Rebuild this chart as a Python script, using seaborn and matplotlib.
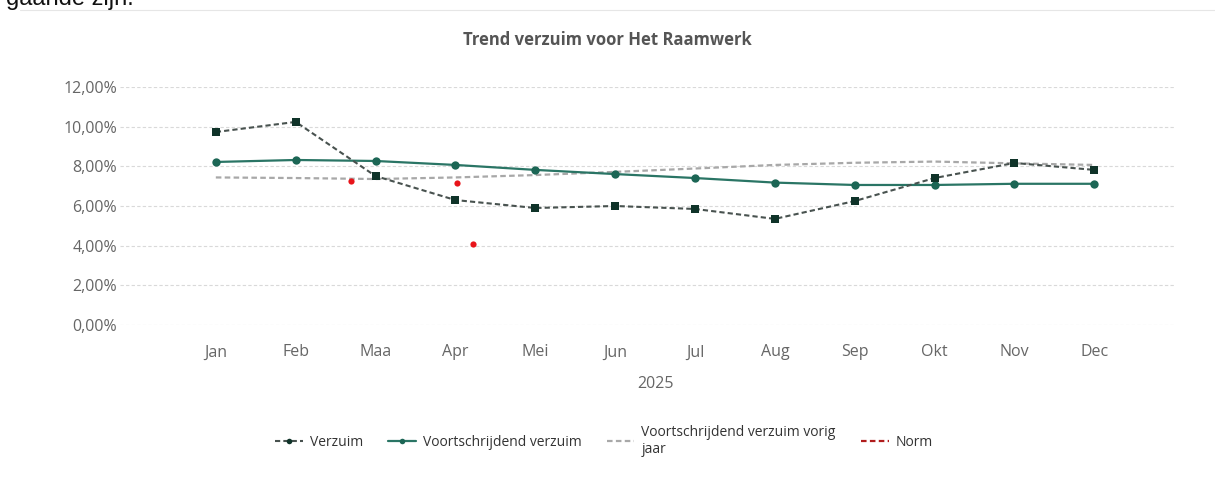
import numpy as np
import pandas as pd
import seaborn as sns
import matplotlib.pyplot as plt
from matplotlib.lines import Line2D
from matplotlib.ticker import FuncFormatter

maanden = ['Jan', 'Feb', 'Maa', 'Apr', 'Mei', 'Jun', 'Jul', 'Aug', 'Sep', 'Okt', 'Nov', 'Dec']
verzuim = [9.73, 10.24, 7.51, 6.30, 5.90, 6.00, 5.85, 5.35, 6.25, 7.41, 8.17, 7.82]
voortschrijdend = [8.22, 8.32, 8.27, 8.07, 7.82, 7.61, 7.41, 7.18, 7.06, 7.06, 7.12, 7.12]
vorig_jaar = [7.44, 7.41, 7.36, 7.44, 7.56, 7.72, 7.89, 8.07, 8.18, 8.24, 8.15, 8.07]
# losse norm-punten (positie als maand-index)
norm_x = [1.69, 3.02, 3.22]
norm_y = [7.26, 7.17, 4.10]

sns.set_style('white')
plt.rcParams['font.family'] = ['Open Sans', 'DejaVu Sans']

df = pd.DataFrame({'x': np.arange(len(maanden)), 'verzuim': verzuim,
                   'voortschrijdend': voortschrijdend, 'vorig': vorig_jaar})

fig = plt.figure(figsize=(12.15, 4.84), dpi=100)
ax = fig.add_axes([120 / 1215, 1 - 325 / 484, 1055 / 1215, 238 / 484])

sns.lineplot(data=df, x='x', y='vorig', ax=ax, color='#a8a8a8', lw=1.6,
             linestyle=(0, (2.5, 1.5)), zorder=2)
sns.lineplot(data=df, x='x', y='voortschrijdend', ax=ax, color='#2a7565', lw=1.6,
             marker='o', markersize=6, markeredgewidth=0, markerfacecolor='#1c6655', zorder=3)
sns.lineplot(data=df, x='x', y='verzuim', ax=ax, color='#48524f', lw=1.5,
             linestyle=(0, (2.5, 1.5)), marker='s', markersize=5.5, markeredgewidth=0,
             markerfacecolor='#0f3329', zorder=4)
sns.scatterplot(x=norm_x, y=norm_y, ax=ax, color='#e8141a', s=20, linewidth=0, zorder=5)

ax.set_ylim(0, 12)
ax.set_xlim(-1.2, 12.01)
ax.set_yticks(np.arange(0, 13, 2))
ax.yaxis.set_major_formatter(FuncFormatter(lambda v, p: f'{v:.2f}%'.replace('.', ',')))
ax.set_xticks(np.arange(len(maanden)))
ax.set_xticklabels(maanden)
ax.tick_params(axis='both', length=0, labelsize=11.5, labelcolor='#666666')
ax.tick_params(axis='x', pad=14)
ax.tick_params(axis='y', pad=2)
ax.grid(axis='y', color='#d9d9d9', linestyle=(0, (3, 2)), lw=0.8)
ax.grid(axis='x', visible=False)
for s in ax.spines.values():
    s.set_visible(False)
ax.set_ylabel('')
ax.set_xlabel('2025', fontsize=11.5, color='#666666')
ax.xaxis.set_label_coords((655 - 120) / 1055, -0.215)

fig.text(607 / 1215, 1 - 40 / 484, 'Trend verzuim voor Het Raamwerk', ha='center', va='center',
         fontsize=12, fontweight='bold', color='#555555')

# afgesneden tekst bovenaan de schermafbeelding
fig.text(6 / 1215, 1 - 5 / 484, 'gaande zijn.', ha='left', va='baseline', fontsize=17,
         family='Liberation Sans', color='#111111')
fig.add_artist(Line2D([20 / 1215, 1], [1 - 10 / 484, 1 - 10 / 484], color='#e6e6e6', lw=0.8))

handles = [
    Line2D([], [], color='#48524f', lw=1.5, linestyle=(0, (2.5, 1.5)), marker='o',
           markersize=4, markerfacecolor='#0f3329', markeredgewidth=0),
    Line2D([], [], color='#2a7565', lw=1.6, marker='o', markersize=4,
           markerfacecolor='#1c6655', markeredgewidth=0),
    Line2D([], [], color='#a8a8a8', lw=1.6, linestyle=(0, (2.5, 1.5))),
    Line2D([], [], color='#b01c1c', lw=1.6, linestyle=(0, (2.5, 1.5))),
]
labels = ['Verzuim', 'Voortschrijdend verzuim', 'Voortschrijdend verzuim vorig\njaar', 'Norm']
leg = fig.legend(handles, labels, loc='upper center', bbox_to_anchor=(604 / 1215, 1 - 412 / 484),
                 ncol=4, frameon=False, fontsize=10, handlelength=2.0, handletextpad=0.5,
                 columnspacing=1.8)
for t in leg.get_texts():
    t.set_color('#333333')

fig.savefig('out.png', dpi=100)
